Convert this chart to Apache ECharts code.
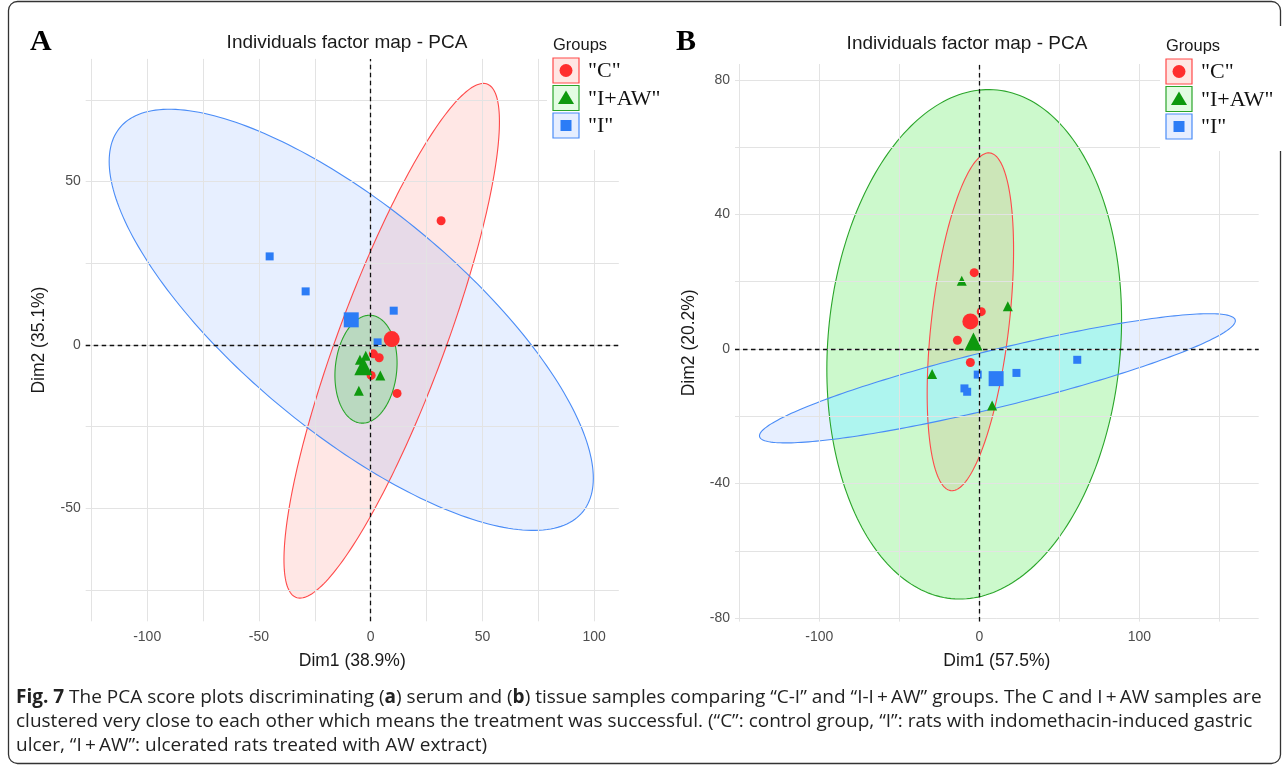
<!DOCTYPE html>
<html><head><meta charset="utf-8">
<script src="https://cdn.jsdelivr.net/npm/echarts@6/dist/echarts.min.js"></script>
<style>html,body{margin:0;padding:0;background:#fff}#c{width:1287px;height:774px}</style>
</head><body><div id="c"></div><script>
// ---------- data ----------
const groupNames = ['"C"', '"I+AW"', '"I"'];
// Panel A (serum)
const A_C   = [[31.5,38.0],[1.2,-2.7],[3.8,-3.9],[0.2,-9.3],[11.8,-14.8]];
const A_IAW = [[-2.2,-3.3],[-4.8,-4.5],[-3.0,-7.0],[4.3,-9.3],[-5.3,-14.0]];
const A_I   = [[-45.2,27.1],[-29.1,16.4],[10.3,10.5],[3.1,0.8]];
const A_means = [[9.4,1.8],[-3.3,-6.5],[-8.7,7.7]];
// ellipse: [centerX, centerY, halfWidth, halfHeight, correlation]
const A_ell = [[9.4,1.3,48.2,78.7,0.851],[-2.1,-7.4,13.9,16.5,0.117],[-8.7,7.7,108.3,64.4,-0.752]];
// Panel B (tissue)
const B_C   = [[-3.2,22.7],[1.2,11.1],[-13.7,2.6],[-5.6,-4.0]];
const B_IAW = [[-11.0,20.3],[17.8,12.7],[-29.5,-7.4],[8.0,-16.8]];
const B_I   = [[-1.0,-7.6],[23.2,-7.1],[-9.3,-11.7],[-7.6,-12.7],[61.2,-3.2]];
const B_means = [[-5.6,8.2],[-3.7,2.2],[10.5,-8.8]];
const B_ell = [[-5.6,8.1,27.0,50.2,0.425],[-3.2,1.4,92.1,75.7,0.098],[11.3,-8.7,148.7,19.2,0.89]];
// axes
const A_xLabels = [-100,-50,0,50,100], A_xGrid = [-125,-100,-75,-50,-25,0,25,50,75,100];
const A_yLabels = [-50,0,50], A_yGrid = [-75,-50,-25,0,25,50,75];
const A_xRange = [-127.5,111], A_yRange = [-84.5,87.5];
const B_xLabels = [-100,0,100], B_xGrid = [-150,-100,-50,0,50,100,150];
const B_yLabels = [-80,-40,0,40,80], B_yGrid = [-80,-60,-40,-20,0,20,40,60,80];
const B_xRange = [-152.7,174.6], B_yRange = [-81,84.7];
const axisNames = {A:['Dim1 (38.9%)','Dim2 (35.1%)'], B:['Dim1 (57.5%)','Dim2 (20.2%)']};
const plotTitle = 'Individuals factor map - PCA';
const captionLines = [
 ['Fig. 7', ' The PCA score plots discriminating (', 'a', ') serum and (', 'b', ') tissue samples comparing \u201cC-I\u201d and \u201cI-I\u2009+\u2009AW\u201d groups. The C and I\u2009+\u2009AW samples are'],
 ['clustered very close to each other which means the treatment was successful. (\u201cC\u201d: control group, \u201cI\u201d: rats with indomethacin-induced gastric'],
 ['ulcer, \u201cI\u2009+\u2009AW\u201d: ulcerated rats treated with AW extract)']
];

// ---------- styles ----------
const col = ['#FF2E2E', '#0E990E', '#2C7CF6'];
const lineCol = ['#FF4A4A', '#2AA52A', '#4A8CF7'];
const fillCol = ['rgba(255,60,40,0.12)', 'rgba(40,230,40,0.24)', 'rgba(60,120,255,0.12)'];
const overlapFill = 'rgba(172,246,242,0.88)';
const symbols = ['circle','triangle','rect'];
const ptSize = [9, 10, 8];
const meanSize = [16, 18, 15];

const chart = echarts.init(document.getElementById('c'), null, {renderer:'canvas'});

function ellPts(api, e){
  const [cx,cy,rx,ry,r]=e, s=Math.sqrt(1-r*r), pts=[];
  for(let k=0;k<240;k++){const t=2*Math.PI*k/240;
    pts.push(api.coord([cx+rx*Math.cos(t), cy+ry*(r*Math.cos(t)+s*Math.sin(t))]));}
  return pts;
}
function ellipseSeries(gi, e, i, mode){
  return {
    type:'custom', xAxisIndex:gi, yAxisIndex:gi, silent:true, z:2,
    data:[e], dimensions:['cx','cy','rx','ry','rho'], encode:{x:0,y:1},
    renderItem(params, api){
      const pts=ellPts(api,[0,1,2,3,4].map(d=>api.value(d)));
      const style = mode==='fill' ? {fill:fillCol[i], stroke:null} : {fill:null, stroke:lineCol[i], lineWidth:1.1};
      return {type:'polygon', shape:{points:pts}, style};
    }
  };
}
// Sutherland-Hodgman clip of subject polygon by convex clip polygon
function clipPoly(subject, clip){
  let out=subject;
  const n=clip.length;
  let area=0; for(let i=0;i<n;i++){const a=clip[i],b=clip[(i+1)%n]; area+=a[0]*b[1]-b[0]*a[1];}
  const sgn=area>0?1:-1;
  const inside=(p,a,b)=>sgn*((b[0]-a[0])*(p[1]-a[1])-(b[1]-a[1])*(p[0]-a[0]))>=0;
  const inter=(p,q,a,b)=>{const A1=q[1]-p[1],B1=p[0]-q[0],C1=A1*p[0]+B1*p[1];
    const A2=b[1]-a[1],B2=a[0]-b[0],C2=A2*a[0]+B2*a[1];const d=A1*B2-A2*B1;
    return [(B2*C1-B1*C2)/d,(A1*C2-A2*C1)/d];};
  for(let i=0;i<n&&out.length;i++){
    const a=clip[i],b=clip[(i+1)%n],inp=out;out=[];
    for(let j=0;j<inp.length;j++){const p=inp[j],q=inp[(j+1)%inp.length];
      const pi=inside(p,a,b),qi=inside(q,a,b);
      if(pi){out.push(p); if(!qi) out.push(inter(p,q,a,b));}
      else if(qi){out.push(inter(p,q,a,b));}
    }
  }
  return out;
}
function overlapSeries(gi, eSub, eClip, fill){
  return {type:'custom', xAxisIndex:gi, yAxisIndex:gi, silent:true, z:2,
    data:[[...eSub, ...eClip]], encode:{x:0,y:1},
    renderItem(params, api){
      const v=[0,1,2,3,4,5,6,7,8,9].map(d=>api.value(d));
      const poly=clipPoly(ellPts(api,v.slice(0,5)), ellPts(api,v.slice(5)));
      return {type:'polygon', shape:{points:poly}, style:{fill, stroke:null}};
    }};
}
function gridLines(gi, xs, ys){
  return {type:'scatter', xAxisIndex:gi, yAxisIndex:gi, data:[], silent:true, z:1,
    markLine:{silent:true, symbol:'none', animation:false, label:{show:false},
      lineStyle:{color:'#E3E3E3', width:1, type:'solid'},
      data:[...xs.map(v=>({xAxis:v})), ...ys.map(v=>({yAxis:v}))]}};
}
function zeroLines(gi){
  return {type:'scatter', xAxisIndex:gi, yAxisIndex:gi, data:[], silent:true, z:3,
    markLine:{silent:true, symbol:'none', animation:false, label:{show:false},
      lineStyle:{color:'#111', width:1.3, type:[4.5,3.5]},
      data:[{xAxis:0},{yAxis:0}]}};
}
function pts(gi, data, i, size, z){
  return {type:'scatter', xAxisIndex:gi, yAxisIndex:gi, data, symbol:symbols[i], symbolSize:size,
    itemStyle:{color:col[i], opacity:1}, z, silent:true, animation:false};
}
function xAxis(gi, range, labels, name){
  return {type:'value', gridIndex:gi, min:range[0], max:range[1], name, nameLocation:'middle', nameGap:31,
    nameTextStyle:{fontFamily:'Liberation Sans', fontSize:17.5, color:'#1a1a1a'},
    axisLine:{show:false}, axisTick:{show:false}, splitLine:{show:false},
    axisLabel:{customValues:labels, fontFamily:'Liberation Sans', fontSize:14, color:'#4D4D4D', margin:9}};
}
function yAxis(gi, range, labels, name, gap){
  return {type:'value', gridIndex:gi, min:range[0], max:range[1], name, nameLocation:'middle', nameGap:gap, nameRotate:90,
    nameTextStyle:{fontFamily:'Liberation Sans', fontSize:17.5, color:'#1a1a1a'},
    axisLine:{show:false}, axisTick:{show:false}, splitLine:{show:false},
    axisLabel:{customValues:labels, fontFamily:'Liberation Sans', fontSize:14, color:'#4D4D4D', margin:5}};
}

const series = [];
[[0,A_ell,[A_C,A_IAW,A_I],A_means,A_xGrid,A_yGrid],[1,B_ell,[B_C,B_IAW,B_I],B_means,B_xGrid,B_yGrid]].forEach(([gi,ell,groups,means,xg,yg])=>{
  series.push(gridLines(gi,xg,yg));
  ell.forEach((e,i)=>series.push(ellipseSeries(gi,e,i,'fill')));
  if(gi===1) series.push(overlapSeries(gi, ell[2], ell[1], overlapFill));
  ell.forEach((e,i)=>series.push(ellipseSeries(gi,e,i,'line')));
  series.push(zeroLines(gi));
  groups.forEach((g,i)=>series.push(pts(gi,g,i,ptSize[i],4)));
  means.forEach((m,i)=>series.push(pts(gi,[m],i,meanSize[i],5)));
});

// legend graphics
function legend(x, y){
  const els = [{type:'rect', shape:{x:x-6,y:y-20,width:140,height:125}, style:{fill:'#fff'}, z:10},
    {type:'text', style:{x, y:y, text:'Groups', font:'16.5px "Liberation Sans"', fill:'#1a1a1a', textVerticalAlign:'middle'}, z:11}];
  groupNames.forEach((g,i)=>{
    const by = y+13+i*27.5;
    els.push({type:'rect', shape:{x:x, y:by, width:26, height:25}, style:{fill:fillCol[i].replace(/0\.\d+\)/,'0.13)'), stroke:lineCol[i], lineWidth:1.2}, z:11});
    const cx=x+13, cy=by+12.5;
    if(i===0) els.push({type:'circle', shape:{cx,cy,r:6.5}, style:{fill:col[0]}, z:12});
    if(i===1) els.push({type:'polygon', shape:{points:[[cx,cy-7.5],[cx+8,cy+6],[cx-8,cy+6]]}, style:{fill:col[1]}, z:12});
    if(i===2) els.push({type:'rect', shape:{x:cx-5.5,y:cy-5.5,width:11,height:11}, style:{fill:col[2]}, z:12});
    els.push({type:'text', style:{x:x+35, y:cy+1, text:g, font:'22px "Liberation Serif"', fill:'#111', textVerticalAlign:'middle'}, z:12});
  });
  return els;
}

// caption: fit the font size so the first line spans the reference width
const capFont = 'Open Sans';
const ctx = document.createElement('canvas').getContext('2d');
function lineWidth(parts, size){
  let w=0; parts.forEach((p,pi)=>{ctx.font=((pi===0||pi===2||pi===4)?'bold ':'')+size+'px "'+capFont+'"'; w+=ctx.measureText(p).width;}); return w;
}
let capSize = 16 * 1246 / lineWidth(captionLines[0], 16);
capSize = Math.round(capSize*10)/10;
const captionRich = captionLines.map((parts,li)=>({type:'text', z:12,
  style:{x:16, y:698+li*24, textVerticalAlign:'middle',
    rich:{b:{fontFamily:capFont, fontWeight:'bold', fontSize:capSize, fill:'#222'}, n:{fontFamily:capFont, fontSize:capSize, fill:'#222'}},
    text: parts.map((p,pi)=> (li===0 && (pi===0||pi===2||pi===4)) ? '{b|'+p+'}' : '{n|'+p+'}').join('')}}));

chart.setOption({
  animation:false,
  backgroundColor:'#fff',
  title:[
    {text:plotTitle, left:342, top:28, textAlign:'center', textStyle:{fontFamily:'Liberation Sans', fontSize:19, fontWeight:'normal', color:'#1a1a1a'}},
    {text:plotTitle, left:962, top:29, textAlign:'center', textStyle:{fontFamily:'Liberation Sans', fontSize:19, fontWeight:'normal', color:'#1a1a1a'}}
  ],
  grid:[{left:85.7, top:58.9, width:533.1, height:562.4},{left:735, top:64, width:523.7, height:557.6}],
  xAxis:[xAxis(0,A_xRange,A_xLabels,axisNames.A[0]), xAxis(1,B_xRange,B_xLabels,axisNames.B[0])],
  yAxis:[yAxis(0,A_yRange,A_yLabels,axisNames.A[1],38), yAxis(1,B_yRange,B_yLabels,axisNames.B[1],37)],
  series,
  graphic:[
    {type:'rect', shape:{x:8.5,y:1.5,width:1272,height:762,r:9}, style:{fill:'none', stroke:'#333', lineWidth:1.3}, z:1},
    {type:'text', style:{x:30, y:42, text:'A', font:'bold 30px "Liberation Serif"', fill:'#000', textVerticalAlign:'middle'}, z:12},
    {type:'text', style:{x:676, y:42, text:'B', font:'bold 30px "Liberation Serif"', fill:'#000', textVerticalAlign:'middle'}, z:12},
    ...legend(553, 45), ...legend(1166, 46),
    ...captionRich
  ]
});
</script></body></html>
